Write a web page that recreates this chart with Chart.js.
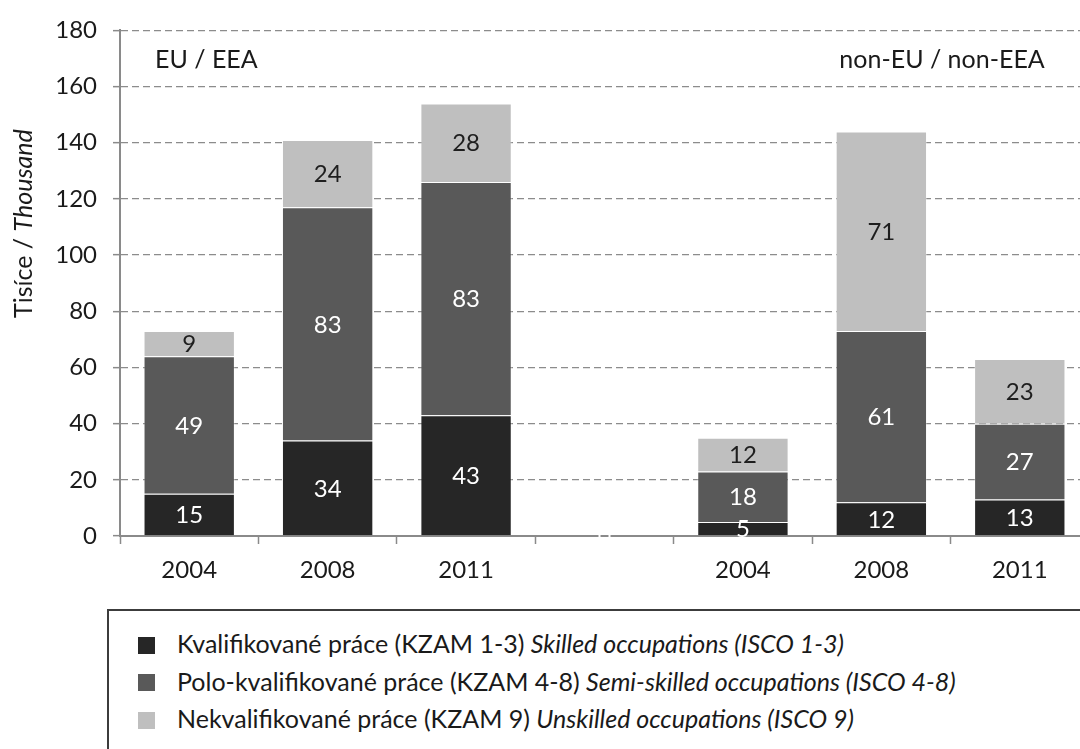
<!DOCTYPE html>
<html>
<head>
<meta charset="utf-8">
<script src="https://cdn.jsdelivr.net/npm/chart.js@4.4.0/dist/chart.umd.min.js"></script>
<style>
    html, body { margin: 0; padding: 0; overflow: hidden; background: #fff; width: 1080px; height: 749px; }
    #wrap { position: absolute; left: 0; top: 0; width: 1090px; height: 600px; }
    #legend {
        position: absolute; left: 107px; top: 609px; width: 1100px; height: 200px;
        border: 2px solid #3c3c3c; box-sizing: border-box;
        font-family: Lato, sans-serif; font-size: 25px; color: #1a1a1a;
    }
    .item { position: absolute; left: 29px; height: 17px; display: flex; align-items: center; white-space: nowrap; }
    .swatch { width: 17px; height: 17px; margin-right: 22px; flex: none; }
    .item span { position: relative; top: -2px; }
    .item i { font-style: italic; }
</style>
</head>
<body>
<div id="wrap"><canvas id="chart"></canvas></div>
<div id="legend"></div>

<script>
// categories: two groups of years separated by an empty slot
const categories = ['2004', '2008', '2011', '', '2004', '2008', '2011'];
const groupLabels = ['EU / EEA', 'non-EU / non-EEA'];

// values in thousands
const skilled = [15, 34, 43, null, 5, 12, 13];
const semiSkilled = [49, 83, 83, null, 18, 61, 27];
const unskilled = [9, 24, 28, null, 12, 71, 23];

const seriesCz = ['Kvalifikované práce (KZAM 1-3)', 'Polo-kvalifikované práce (KZAM 4-8)', 'Nekvalifikované práce (KZAM 9)'];
const seriesEn = ['Skilled occupations (ISCO 1-3)', 'Semi-skilled occupations (ISCO 4-8)', 'Unskilled occupations (ISCO 9)'];
const colors = ['#262626', '#595959', '#bfbfbf'];
const labelColors = ['#ffffff', '#ffffff', '#1e1e1e'];

const yMax = 180;
const yStep = 20;

const FONT = 'Lato, sans-serif';

// legend
const legend = document.getElementById('legend');
seriesCz.forEach((name, i) => {
    legend.innerHTML += `
        <div class="item" style="top:${25.5 + i * 37.5}px">
            <div class="swatch" style="background:${colors[i]}"></div>
            <span>${name} <i>${seriesEn[i]}</i></span>
        </div>`;
});

// value labels in the middle of each segment
const segmentLabels = {
    id: 'segmentLabels',
    afterDatasetsDraw(chart) {
        const ctx = chart.ctx;
        ctx.save();
        ctx.font = '24px ' + FONT;
        ctx.textAlign = 'center';
        ctx.textBaseline = 'middle';
        chart.data.datasets.forEach((ds, di) => {
            const meta = chart.getDatasetMeta(di);
            meta.data.forEach((bar, i) => {
                const v = ds.data[i];
                if (v == null) return;
                const p = bar.getProps(['x', 'y', 'base'], true);
                ctx.fillStyle = labelColors[di];
                ctx.fillText(String(v), p.x, (p.y + p.base) / 2 + 1);
            });
        });
        ctx.restore();
    }
};

// group titles, y title and the small break in the x axis
const extras = {
    id: 'extras',
    afterDraw(chart) {
        const ctx = chart.ctx;
        const x = chart.scales.x;
        const area = chart.chartArea;
        ctx.save();
        ctx.fillStyle = '#1a1a1a';
        ctx.font = '25px ' + FONT;
        ctx.textBaseline = 'middle';
        ctx.textAlign = 'left';
        ctx.fillText(groupLabels[0], area.left + 35, 60);
        ctx.textAlign = 'right';
        ctx.fillText(groupLabels[1], x.getPixelForValue(6) + 25, 60);

        // axis break
        const bx = x.getPixelForValue(3);
        ctx.fillStyle = '#fff';
        ctx.fillRect(bx - 6, area.bottom - 2, 2, 4);
        ctx.fillRect(bx + 4, area.bottom - 2, 2, 4);

        // y title
        ctx.translate(32, 318);
        ctx.rotate(-Math.PI / 2);
        ctx.fillStyle = '#1a1a1a';
        ctx.textAlign = 'left';
        ctx.textBaseline = 'alphabetic';
        ctx.font = '25px ' + FONT;
        const first = 'Tisíce / ';
        ctx.fillText(first, 0, 0);
        const w = ctx.measureText(first).width;
        ctx.font = 'italic 25px ' + FONT;
        ctx.fillText('Thousand', w, 0);
        ctx.restore();
    }
};

const datasets = [skilled, semiSkilled, unskilled].map((data, i) => ({
    label: seriesCz[i],
    data: data,
    backgroundColor: colors[i],
    borderColor: 'rgba(255,255,255,0.3)',
    borderWidth: 1,
    categoryPercentage: 1,
    barPercentage: 0.66
}));

new Chart(document.getElementById('chart'), {
    type: 'bar',
    data: { labels: categories, datasets: datasets },
    options: {
        responsive: true,
        maintainAspectRatio: false,
        animation: false,
        layout: { padding: { top: 23, right: 1, left: 0, bottom: 0 } },
        plugins: {
            legend: { display: false },
            tooltip: { enabled: false }
        },
        scales: {
            x: {
                stacked: true,
                afterFit(scale) { scale.height = 64; },
                grid: {
                    drawOnChartArea: false,
                    offset: true,
                    tickLength: 8,
                    tickColor: '#8a8a8a',
                    tickWidth: 1.5
                },
                border: { color: '#8a8a8a', width: 2 },
                ticks: {
                    color: '#1a1a1a',
                    font: { family: FONT, size: 24 },
                    padding: 12,
                    maxRotation: 0,
                    autoSkip: false
                }
            },
            y: {
                stacked: true,
                min: 0,
                max: yMax,
                afterFit(scale) { scale.width = 120; },
                grid: {
                    color: (c) => c.tick && c.tick.value === 0 ? 'rgba(0,0,0,0)' : '#8c8c8c',
                    lineWidth: 1.3,
                    tickLength: 7,
                    tickColor: '#8a8a8a',
                    tickWidth: 1.5,
                    tickBorderDash: []
                },
                border: { color: '#8a8a8a', width: 2, dash: [7, 4] },
                ticks: {
                    stepSize: yStep,
                    color: '#1a1a1a',
                    font: { family: FONT, size: 24 },
                    padding: 16
                }
            }
        }
    },
    plugins: [segmentLabels, extras]
});
</script>
</body>
</html>
